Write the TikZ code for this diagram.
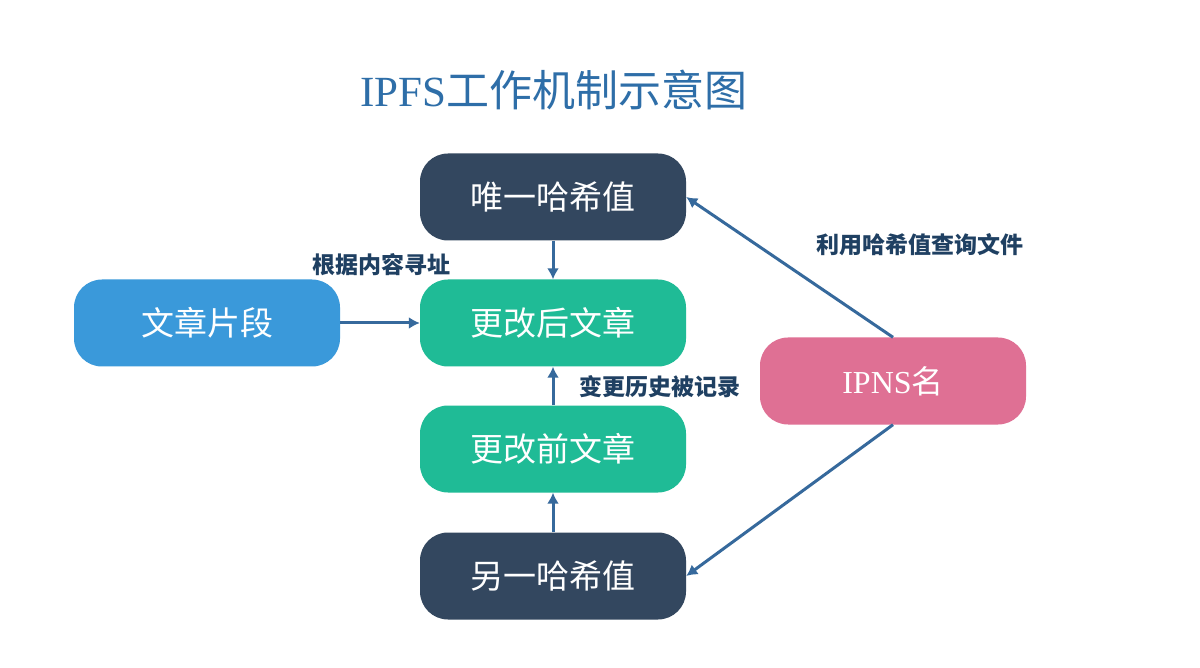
\documentclass[tikz,border=0pt]{standalone}
\usepackage{fontspec}
\newfontfamily\cjk{Noto Sans CJK SC}
\newfontfamily\lat{Liberation Serif}
\usetikzlibrary{arrows.meta}
\definecolor{navy}{HTML}{33475F}
\definecolor{teal}{HTML}{1FBB96}
\definecolor{skyb}{HTML}{3A99DA}
\definecolor{pinkc}{HTML}{DF7094}
\definecolor{arr}{HTML}{36699C}
\definecolor{lbl}{HTML}{1F4062}
\definecolor{ttl}{HTML}{2E6EA8}
\tikzset{
  box/.style={rounded corners=28pt, minimum width=266pt, minimum height=87pt, inner sep=0pt, text=white, font=\cjk\fontsize{33}{36}\selectfont},
  conn/.style={draw=arr, line width=3pt, -{Latex[length=11pt,width=12pt]}},
  lab/.style={text=lbl, font=\cjk\bfseries\fontsize{23}{26}\selectfont, inner sep=0pt}
}
\begin{document}
\begin{tikzpicture}[x=1pt,y=-1pt]
\useasboundingbox[fill=white] (0,0) rectangle (1200,668);
\node[text=ttl, inner sep=0pt] (title) at (554,90) {\fontsize{43}{46}\selectfont{\lat IPFS}{\cjk 工作机制示意图}};
\node[box, fill=navy] (h1) at (553,197) {唯一哈希值};
\node[box, fill=teal] (after) at (553,323) {更改后文章};
\node[box, fill=skyb] (frag) at (207,323) {文章片段};
\node[box, fill=teal] (before) at (553,449) {更改前文章};
\node[box, fill=navy] (h2) at (553,576) {另一哈希值};
\node[box, fill=pinkc] (ipns) at (893,381) {{\lat\fontsize{32}{36}\selectfont IPNS}{\fontsize{32}{36}\selectfont 名}};
\draw[conn] (h1) -- (after);
\draw[conn] (frag) -- (after);
\draw[conn] (before) -- (after);
\draw[conn] (h2) -- (before);
\draw[conn] (ipns.north) -- (h1.east);
\draw[conn] (ipns.south) -- (h2.east);
\node[lab] (l1) at (381,265) {根据内容寻址};
\node[lab] (l2) at (660,387) {变更历史被记录};
\node[lab] (l3) at (920,245) {利用哈希值查询文件};
\end{tikzpicture}
\end{document}
